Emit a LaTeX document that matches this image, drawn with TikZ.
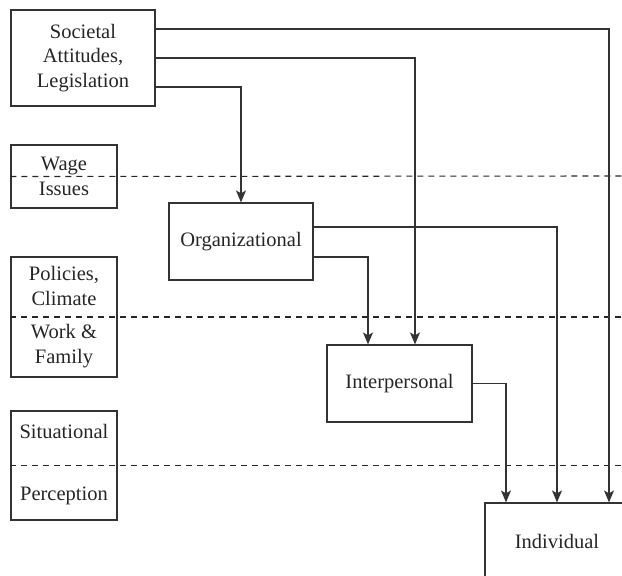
\documentclass[tikz,border=0pt]{standalone}
\usepackage{fontspec}
\setmainfont{Liberation Serif}
\usetikzlibrary{arrows.meta}
\begin{document}
\begin{tikzpicture}[x=1pt,y=-1pt,
  every node/.style={font=\fontsize{20.5}{24.5}\selectfont, text=black!85},
  box/.style={draw=black!80, line width=1.2pt, inner sep=0pt, align=center},
  lbl/.style={inner sep=0pt, align=center},
  arr/.style={draw=black!80, line width=1.2pt, -{Stealth[length=12pt,width=10pt,inset=3pt]}},
  sep/.style={draw=black!85, line width=1.1pt, dash pattern=on 6pt off 5pt}]
\useasboundingbox (0,0) rectangle (622,576);
\clip (0,0) rectangle (622,576);
% boxes
\node[box, minimum width=144pt, minimum height=96pt] (soc) at (83,58) {Societal\\Attitudes,\\Legislation};
\node[box, minimum width=106pt, minimum height=63pt] (wage) at (64,176.5) {Wage\\Issues};
\node[box, minimum width=144pt, minimum height=77pt] (org) at (241,241.5) {Organizational};
\node[box, minimum width=106pt, minimum height=120pt] (pol) at (64,317) {};
\node[lbl] (polt) at (64,286) {Policies,\\Climate};
\node[lbl] (work) at (64,346) {Work \&\\Family};
\node[box, minimum width=106pt, minimum height=109pt] (sit) at (64,465.5) {};
\node[lbl] (sitt) at (64,431) {Situational};
\node[lbl] (perc) at (64,496) {Perception};
\node[box, minimum width=145pt, minimum height=77pt] (inter) at (399.5,383.5) {Interpersonal};
\node[box, minimum width=144pt, minimum height=77pt] (indiv) at (557,541.5) {Individual};
% dashed separators
\coordinate (d1) at (622,176);
\coordinate (d2) at (622,317);
\coordinate (d3) at (622,465.5);
\draw[sep] (wage.west) -- (d1);
\draw[sep] (pol.west) -- (d2);
\draw[sep] (sit.west) -- (d3);
% connectors
\draw[arr] ([yshift=29pt]soc.east) -| ([xshift=52pt]indiv.north);
\draw[arr] (soc.east) -| ([xshift=15.5pt]inter.north);
\draw[arr] ([yshift=-29pt]soc.east) -| (org.north);
\draw[arr] ([yshift=14.5pt]org.east) -| (indiv.north);
\draw[arr] ([yshift=-15.5pt]org.east) -| ([xshift=-31.5pt]inter.north);
\draw[arr] (inter.east) -| ([xshift=-51pt]indiv.north);
\end{tikzpicture}
\end{document}
